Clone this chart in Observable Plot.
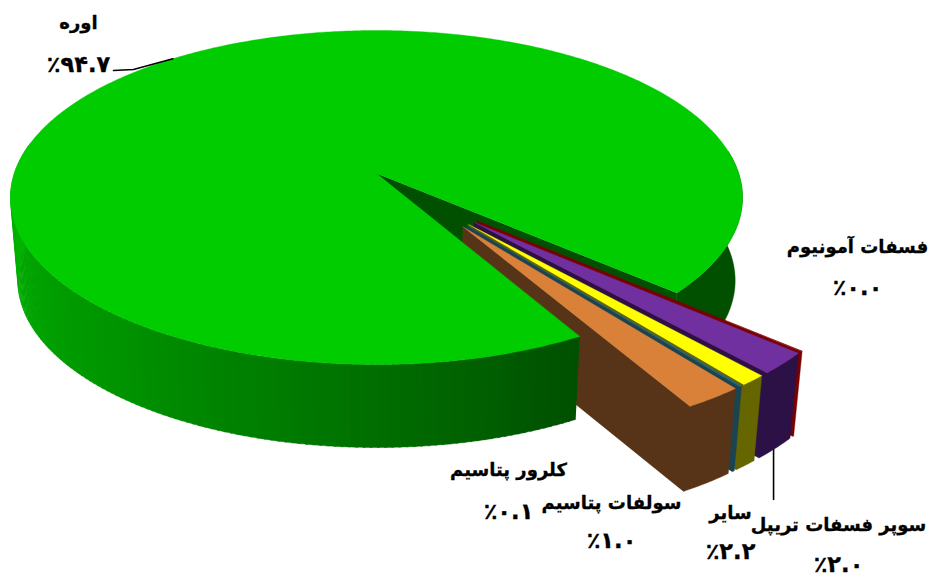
<!DOCTYPE html>
<html><head><meta charset="utf-8">
<script src="https://cdn.jsdelivr.net/npm/d3@7"></script>
<script src="https://cdn.jsdelivr.net/npm/@observablehq/plot@0.6"></script>
<style>html,body{margin:0;padding:0;background:#fff}svg{display:block}</style>
</head><body><div id="chart"></div>
<script>
// Data, in drawing order clockwise from the start of the big slice
const names = ["اوره","فسفات آمونیوم","سوپر فسفات تریپل","سولفات پتاسیم","کلرور پتاسیم","سایر"];
const shares = [94.7,0.04,2.0,1.0,0.1,2.2];

// Styles
const topColors = ["#00cc00","#800000","#7030a0","#ffff00","#2a6478","#d98039"];
const wallColors = ["#005000","#7a0000","#2c1147","#666600","#1c4450","#573418"];
const leftWallRamp = ["#005000","#007400","#009400","#00b400"];

// Layout of the labels (centre x, name baseline y, value baseline y)
const labelX = [78,857,838,611,508,730];
const nameY = [28,252,530,508,475,518];
const valueY = [71,294,571,547,518,558];

// Pseudo-3D projection of the unit disc
const startAngle = 60.6, explode = 0.385, spread = 0.5, explodeDir = 51, depth = 83, sliceDepth = 85, shrink = 0.98;
const c = -0.1437, a = 138.7, k = 362.2, cx = 376, apexY = 173;
function project(u, v, low, d) {
  const w = 1 + c * v;
  let x = cx + k * u / w, y = (a * v + apexY) / w;
  if (low) { x = cx + (x - cx) * shrink; y += d; }
  return [x, y];
}
const rad = deg => deg * Math.PI / 180;
const total = d3.sum(shares);
let cur = startAngle;
const slices = shares.map((s, i) => {
  const a0 = cur, a1 = cur + s * 360 / total; cur = a1;
  const mid = (a0 + a1) / 2;
  const dir = explodeDir + ((mid % 360) - explodeDir) * spread;
  const e = i === 0 ? 0 : explode;
  return {i, a0, a1, ox: e * Math.cos(rad(dir)), oy: e * Math.sin(rad(dir)), d: i === 0 ? depth : sliceDepth};
});
const rows = [];
let pid = 0;
function poly(points, color) {
  const id = pid++;
  for (const [x, y] of points) rows.push({id, x, y, color});
}
const rim = (s, deg, low) => project(s.ox + Math.cos(rad(deg)), s.oy + Math.sin(rad(deg)), low, s.d);
const hub = (s, low) => project(s.ox, s.oy, low, s.d);
const arc = (s, d0, d1, low) => {
  const n = Math.max(2, Math.ceil(Math.abs(d1 - d0) * 2));
  return d3.range(n + 1).map(j => rim(s, d0 + (d1 - d0) * j / n, low));
};

// Main slice, parts behind the exploded slices
const g = slices[0];
const endA = g.a1 - 360;
poly([...arc(g, -8, endA, false), ...arc(g, -8, endA, true).reverse()], wallColors[0]);
poly([hub(g,false), rim(g,endA,false), rim(g,endA,true), hub(g,true)], wallColors[0]);

// Leader lines start on the rim of their slices
const leaders = [
  {from: rim(g, 231.3, false), via: [133, 69], to: [113, 70]},
  {from: rim(slices[2], (slices[2].a0 + slices[2].a1) / 2 + 0.4, true), to: [0, 499]}
];
leaders[1].to[0] = leaders[1].from[0];
const leaderRows = leaders.flatMap((l, id) =>
  [l.from, ...(l.via ? [l.via] : []), l.to].map(([x, y]) => ({id, x, y})));

// Exploded slices, back to front
for (const s of slices.slice(1)) {
  poly([hub(s,false), ...arc(s, s.a1, s.a0, false), ...arc(s, s.a0, s.a1, true), hub(s,true)], wallColors[s.i]);
  poly([hub(s,false), ...arc(s, s.a0, s.a1, false)], topColors[s.i]);
}

// Main slice, front wall and top are in front of the exploded slices' roots
const ramp = d3.scaleLinear().domain([60.6, 95, 130, 180]).range(leftWallRamp).clamp(true);
for (let d = g.a0; d < 190; d += 1) {
  poly([...arc(g, d, d + 1.3, false), ...arc(g, d, d + 1.3, true).reverse()], ramp(d));
}
poly([hub(g,false), ...arc(g, g.a0, g.a1, false)], topColors[0]);

const fa = n => n.toFixed(1).replace(/\d/g, d => "۰۱۲۳۴۵۶۷۸۹"[d]);
const labels = names.map((name, i) => ({name, value: "٪" + fa(shares[i]), x: labelX[i], ny: nameY[i], vy: valueY[i]}));

const font = "DejaVu Sans";
document.getElementById("chart").append(Plot.plot({
  width: 930, height: 580, margin: 0,
  x: {domain: [0, 930], range: [0, 930], axis: null},
  y: {domain: [0, 580], range: [0, 580], axis: null},
  color: {type: "identity"},
  marks: [
    Plot.line(leaderRows.filter(d => d.id === 1), {x: "x", y: "y", stroke: "#000", strokeWidth: 1.6}),
    Plot.line(rows, {x: "x", y: "y", z: "id", fill: "color", stroke: "color", strokeWidth: 0.4}),
    Plot.line(leaderRows.filter(d => d.id === 0), {x: "x", y: "y", stroke: "#000", strokeWidth: 1.6}),
    Plot.text(labels, {x: "x", y: "ny", text: "name", fontFamily: font, fontWeight: "bold", fontSize: 18, fill: "#000", stroke: "#000", strokeWidth: 0.3, lineAnchor: "bottom"}),
    Plot.text(labels, {x: "x", y: "vy", text: "value", fontFamily: font, fontWeight: "bold", fontSize: 22.5, fill: "#000", stroke: "#000", strokeWidth: 0.3, lineAnchor: "bottom"})
  ]
}));
</script></body></html>
